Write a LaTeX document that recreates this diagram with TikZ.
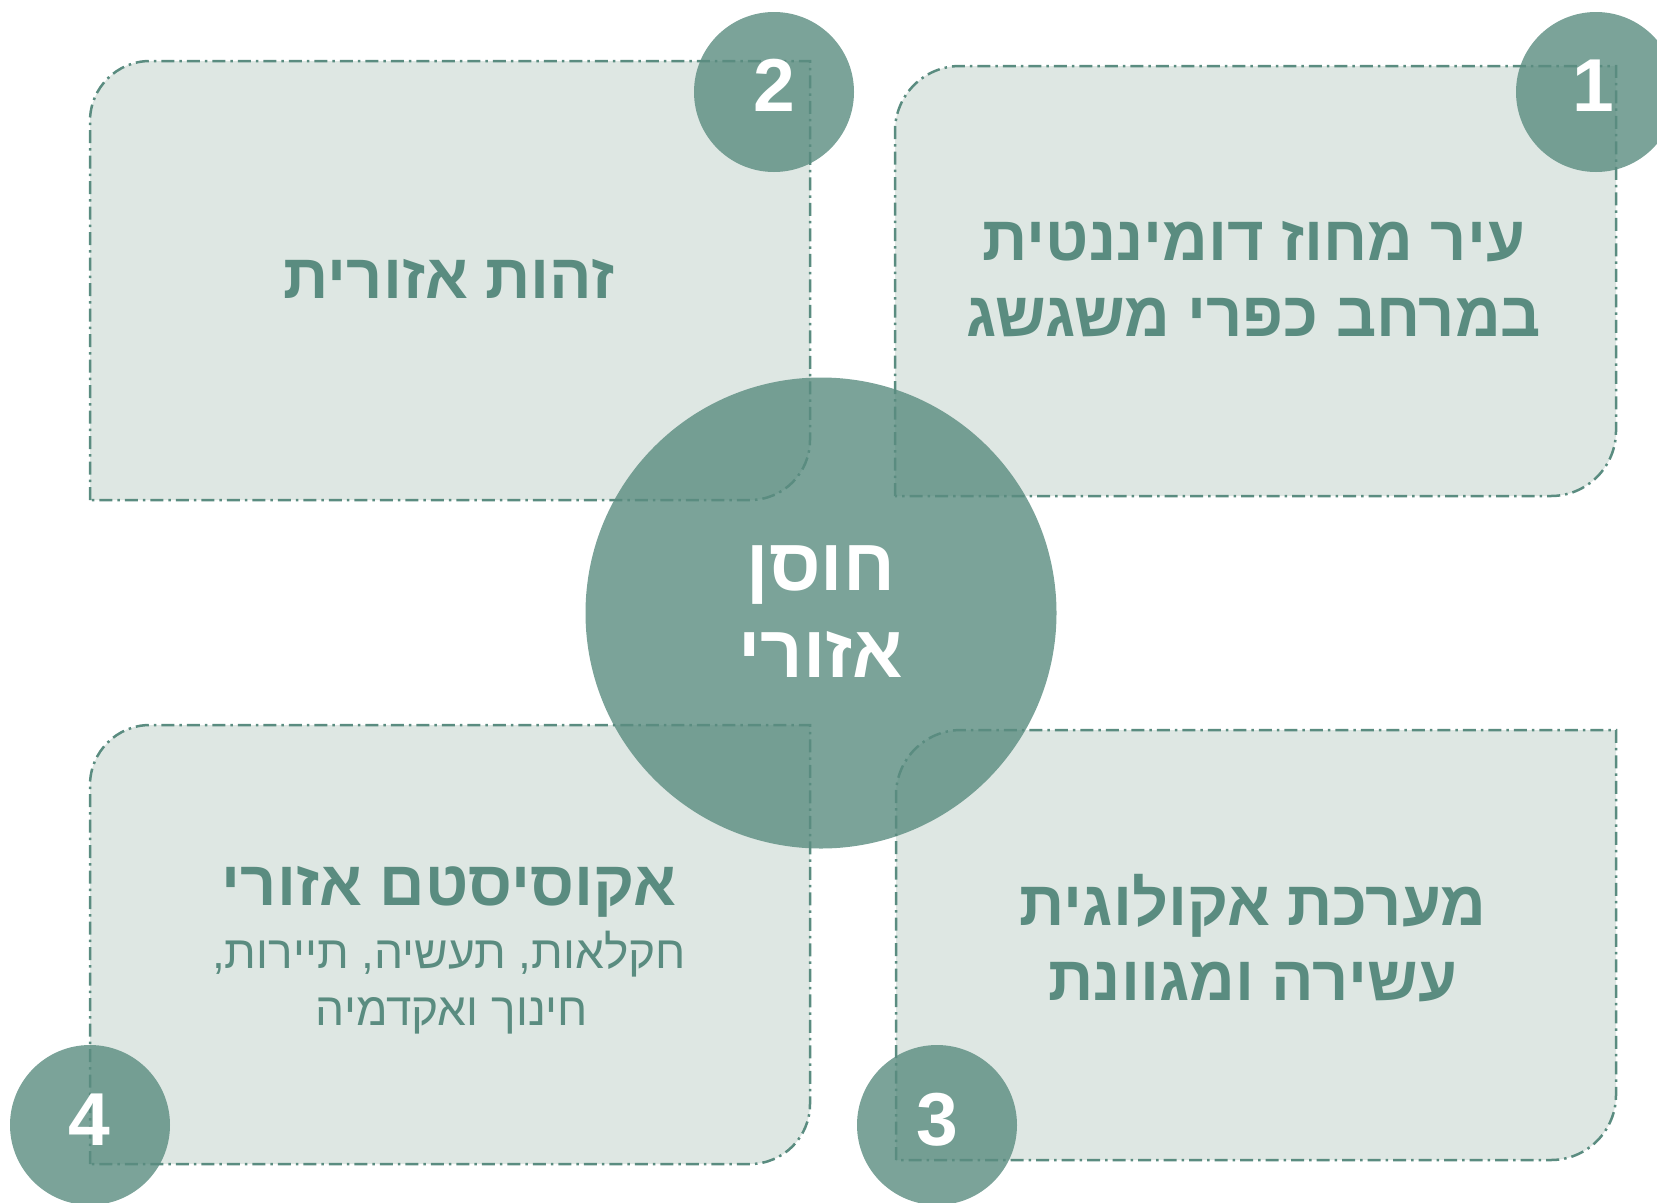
\documentclass[tikz,border=0pt]{standalone}
\usepackage{fontspec}
\setmainfont{Liberation Sans}
\newfontfamily\heb[Script=Hebrew]{Liberation Sans}
\TeXXeTstate=1
\definecolor{accent}{HTML}{5A8C80}
\definecolor{boxfill}{HTML}{DEE7E3}
\newcommand\panelpath[5]{(#1,#4) -- (#1,#2+#5) arc[start angle=180,end angle=270,radius=#5] -- (#3,#2) -- (#3,#4-#5) arc[start angle=0,end angle=90,radius=#5] -- cycle}
\begin{document}
\begin{tikzpicture}[x=1pt,y=-1pt,
  panel/.style={fill=boxfill, draw=accent, line width=2.5pt, dash pattern=on 13pt off 5pt on 2.5pt off 5pt},
  disc/.style={circle, fill=accent, fill opacity=0.8, draw=none, inner sep=0pt},
  num/.style={text=white, font=\fontsize{75}{75}\selectfont\bfseries, anchor=base, inner sep=0pt},
  title/.style={text=accent, font=\heb\fontsize{63}{66}\selectfont\bfseries, anchor=base, inner sep=0pt},
  sub/.style={text=accent, font=\heb\fontsize{46}{50}\selectfont, anchor=base, inner sep=0pt},
  core/.style={text=white, font=\heb\fontsize{74}{76}\selectfont\bfseries, anchor=base, inner sep=0pt}]
\useasboundingbox (0,0) rectangle (1657,1202);
\clip (0,0) rectangle (1657,1202);
% panels
\path[panel] \panelpath{895}{66}{1616}{496}{65};
\path[panel] \panelpath{90}{61}{810}{500}{60};
\path[panel] \panelpath{896}{730}{1616}{1160}{65};
\path[panel] \panelpath{90}{725}{810}{1164}{60};
% discs
\node[disc, minimum size=471pt] (hub) at (821,613) {};
\node[disc, minimum size=160pt] (d1) at (1596,92) {};
\node[disc, minimum size=160pt] (d2) at (774,92) {};
\node[disc, minimum size=160pt] (d3) at (937,1125) {};
\node[disc, minimum size=160pt] (d4) at (90,1125) {};
% numbers
\node[num] (n1) at (1593,111) {1};
\node[num] (n2) at (774,111) {2};
\node[num] (n3) at (937,1145) {3};
\node[num] (n4) at (89,1145) {4};
% texts
\node[title] (t1a) at (1254,260) {\beginR עיר מחוז דומיננטית\endR};
\node[title] (t1b) at (1254,336) {\beginR במרחב כפרי משגשג\endR};
\node[title] (t2) at (449,298) {\beginR זהות אזורית\endR};
\node[title] (t3a) at (1253,925) {\beginR מערכת אקולוגית\endR};
\node[title] (t3b) at (1253,1000) {\beginR עשירה ומגוונת\endR};
\node[title] (t4) at (449,905) {\beginR אקוסיסטם אזורי\endR};
\node[sub] (s4a) at (449,968) {\beginR חקלאות, תעשיה, תיירות,\endR};
\node[sub] (s4b) at (452,1025) {\beginR חינוך ואקדמיה\endR};
\node[core] (c1) at (821,590) {\beginR חוסן\endR};
\node[core] (c2) at (821,677) {\beginR אזורי\endR};
\end{tikzpicture}
\end{document}
